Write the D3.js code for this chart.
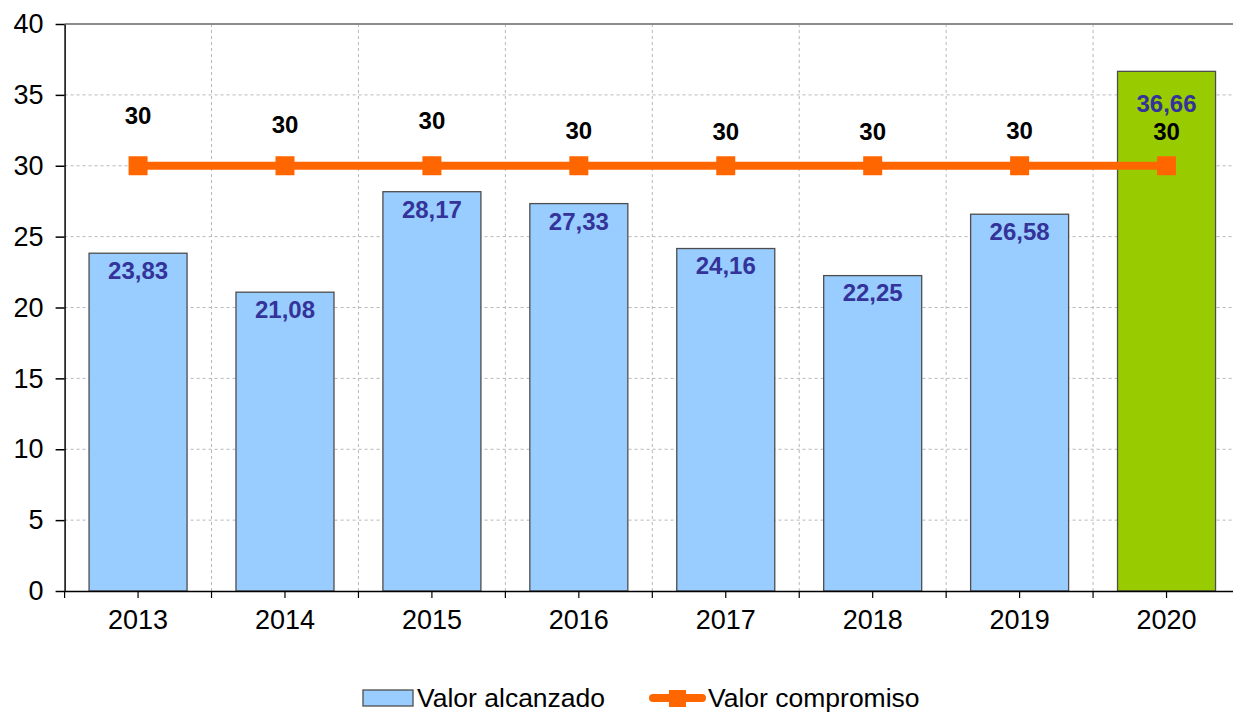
<!DOCTYPE html>
<html>
<head>
<meta charset="utf-8">
<script src="https://cdn.jsdelivr.net/npm/d3@7"></script>
<style>
  html, body { margin: 0; padding: 0; background: #fff; overflow: hidden; }
  svg { display: block; font-family: "Liberation Sans", Arial, sans-serif; }
</style>
</head>
<body>
<svg id="chart" width="1233" height="713"></svg>
<script>
// data
const years = ["2013", "2014", "2015", "2016", "2017", "2018", "2019", "2020"];
const alcanzado = [23.83, 21.08, 28.17, 27.33, 24.16, 22.25, 26.58, 36.66];
const compromiso = [30, 30, 30, 30, 30, 30, 30, 30];
const yTicks = [0, 5, 10, 15, 20, 25, 30, 35, 40];
const seriesNames = ["Valor alcanzado", "Valor compromiso"];

// label placement (hand placed in the original)
const lineLabelDy = [-50, -41, -45, -35, -34, -34, -35, -34];
const barLabelDy = [17, 17, 18, 18, 17, 17, 17, 32];

const fmt = v => v.toFixed(2).replace(".", ",");

const svg = d3.select("#chart");
const margin = {left: 64.6, top: 24, bottom: 591, right: 1240};

const x = d3.scaleBand()
    .domain(years)
    .range([margin.left, margin.right])
    .paddingInner(0.333)
    .paddingOuter(0.1665);
const y = d3.scaleLinear()
    .domain([0, 40])
    .range([margin.bottom, margin.top]);

const step = x.step();
const bounds = d3.range(years.length + 1).map(i => margin.left + i * step);

// grid
const grid = svg.append("g");
grid.selectAll("line.h").data(yTicks.filter(t => t > 0 && t < 40)).enter()
    .append("line")
    .attr("x1", margin.left).attr("x2", margin.right)
    .attr("y1", d => y(d)).attr("y2", d => y(d))
    .attr("stroke", "#b8b8b8").attr("stroke-width", 1)
    .attr("stroke-dasharray", "3,3");
grid.selectAll("line.v").data(bounds.slice(1)).enter()
    .append("line")
    .attr("x1", d => d).attr("x2", d => d)
    .attr("y1", margin.top).attr("y2", margin.bottom)
    .attr("stroke", "#b8b8b8").attr("stroke-width", 1)
    .attr("stroke-dasharray", "3,3");
// top border
grid.append("line")
    .attr("x1", margin.left).attr("x2", margin.right)
    .attr("y1", y(40)).attr("y2", y(40))
    .attr("stroke", "#8c8c8c").attr("stroke-width", 2);

// bars
svg.append("g").selectAll("rect").data(alcanzado).enter()
    .append("rect")
    .attr("x", (d, i) => x(years[i]))
    .attr("y", d => y(d))
    .attr("width", x.bandwidth())
    .attr("height", d => y(0) - y(d))
    .attr("fill", (d, i) => i === years.length - 1 ? "#99cc00" : "#99ccff")
    .attr("stroke", "#4d4d4d")
    .attr("stroke-width", 1.3);

// axes
const yAxis = d3.axisLeft(y).tickValues(yTicks).tickSize(9).tickSizeOuter(0).tickPadding(12);
const gy = svg.append("g")
    .attr("transform", `translate(${margin.left},0)`)
    .call(yAxis);
gy.select(".domain").attr("stroke", "#000").attr("stroke-width", 1.5);
gy.selectAll(".tick line").attr("stroke", "#000").attr("stroke-width", 1.5);
gy.selectAll(".tick text").attr("font-size", 27).attr("fill", "#000")
    .attr("font-family", "Liberation Sans, Arial, sans-serif");

const xAxis = d3.axisBottom(x).tickSize(7).tickSizeOuter(0).tickPadding(12);
const gx = svg.append("g")
    .attr("transform", `translate(0,${margin.bottom})`)
    .call(xAxis);
gx.select(".domain").attr("stroke", "#000").attr("stroke-width", 1.5);
gx.selectAll(".tick line").attr("stroke", "#000").attr("stroke-width", 1.2);
gx.selectAll(".tick text").attr("font-size", 27).attr("fill", "#000")
    .attr("font-family", "Liberation Sans, Arial, sans-serif");
// boundary ticks
gx.selectAll("line.bt").data(bounds).enter()
    .append("line")
    .attr("x1", d => d).attr("x2", d => d)
    .attr("y1", 0).attr("y2", 7)
    .attr("stroke", "#000").attr("stroke-width", 1.2);

// line series
const cx = i => x(years[i]) + x.bandwidth() / 2;
const line = d3.line().x((d, i) => cx(i)).y(d => y(d));
svg.append("path")
    .datum(compromiso)
    .attr("d", line)
    .attr("fill", "none")
    .attr("stroke", "#ff6600")
    .attr("stroke-width", 8);
svg.append("g").selectAll("rect").data(compromiso).enter()
    .append("rect")
    .attr("x", (d, i) => cx(i) - 9.5)
    .attr("y", d => y(d) - 9.5)
    .attr("width", 19).attr("height", 19)
    .attr("fill", "#ff6600");

// labels
svg.append("g").selectAll("text").data(alcanzado).enter()
    .append("text")
    .attr("x", (d, i) => cx(i))
    .attr("y", (d, i) => y(d) + barLabelDy[i])
    .attr("dy", "0.36em")
    .attr("text-anchor", "middle")
    .attr("font-size", 24).attr("font-weight", "bold")
    .attr("fill", "#333399")
    .text(d => fmt(d));
svg.append("g").selectAll("text").data(compromiso).enter()
    .append("text")
    .attr("x", (d, i) => cx(i))
    .attr("y", (d, i) => y(d) + lineLabelDy[i])
    .attr("dy", "0.36em")
    .attr("text-anchor", "middle")
    .attr("font-size", 24).attr("font-weight", "bold")
    .attr("fill", "#000")
    .text(d => d);

// legend
const lg = svg.append("g");
lg.append("rect")
    .attr("x", 363).attr("y", 690).attr("width", 50).attr("height", 16)
    .attr("fill", "#99ccff").attr("stroke", "#4d4d4d").attr("stroke-width", 1.3);
lg.append("text")
    .attr("x", 417).attr("y", 707)
    .attr("font-size", 26.5).attr("fill", "#000")
    .text(seriesNames[0]);
lg.append("line")
    .attr("x1", 653).attr("x2", 702).attr("y1", 698).attr("y2", 698)
    .attr("stroke", "#ff6600").attr("stroke-width", 8).attr("stroke-linecap", "round");
lg.append("rect")
    .attr("x", 669).attr("y", 690).attr("width", 17).attr("height", 17)
    .attr("fill", "#ff6600");
lg.append("text")
    .attr("x", 708).attr("y", 707)
    .attr("font-size", 26.5).attr("fill", "#000")
    .text(seriesNames[1]);
</script>
</body>
</html>
